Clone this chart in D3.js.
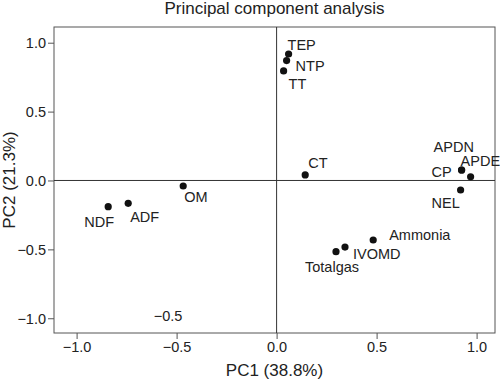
<!DOCTYPE html>
<html>
<head>
<meta charset="utf-8">
<script src="https://cdn.jsdelivr.net/npm/d3@7"></script>
<style>
  body { margin: 0; background: #fff; }
  text { font-family: "Liberation Sans", Arial, sans-serif; fill: #222; }
</style>
</head>
<body>
<svg id="chart" width="500" height="384"></svg>
<script>
// variables (loadings)
var names = ["TEP", "NTP", "TT", "APDN", "CP", "APDE", "NEL", "CT", "OM", "ADF", "NDF", "Ammonia", "IVOMD", "Totalgas"];
var pc1 = [0.06, 0.05, 0.035, 0.925, 0.925, 0.97, 0.92, 0.143, -0.467, -0.742, -0.842, 0.483, 0.342, 0.297];
var pc2 = [0.918, 0.87, 0.795, 0.076, 0.076, 0.027, -0.069, 0.04, -0.04, -0.166, -0.19, -0.432, -0.483, -0.517];
var ticks = [-1.0, -0.5, 0.0, 0.5, 1.0];

// label placement next to each dot (dx to text start, dy to text middle)
var labelDx = [-1, 9, 5, -28, -30, -10, -29, 3, 1, 2, -24, 16, 8, -31];
var labelDy = [-9, 5, 13, -23, 2, -16, 13, -12, 11, 14, 15, -5, 7, 15];

var svg = d3.select("#chart");
var padL = 54, padR = 495, padT = 27, padB = 333;

var x = d3.scaleLinear().domain([-1.113, 1.092]).range([padL, padR]);
var y = d3.scaleLinear().domain([-1.107, 1.114]).range([padB, padT]);

// title
svg.append("text")
    .attr("x", (padL + padR) / 2)
    .attr("y", 14)
    .attr("text-anchor", "middle")
    .style("font-size", "17px")
    .text("Principal component analysis");

// axes
var axisX = d3.axisBottom(x).tickValues(ticks).tickSize(6).tickPadding(3)
    .tickFormat(d3.format(".1f"));
var axisY = d3.axisLeft(y).tickValues(ticks).tickSize(6).tickPadding(2)
    .tickFormat(d3.format(".1f"));

var gx = svg.append("g")
    .attr("class", "axis-X")
    .attr("transform", "translate(0," + padB + ")")
    .call(axisX);
var gy = svg.append("g")
    .attr("class", "axis-Y")
    .attr("transform", "translate(" + padL + ",0)")
    .call(axisY);

[gx, gy].forEach(function(g) {
    g.select(".domain").remove();
    g.selectAll("line").attr("stroke", "#555");
    g.selectAll("text")
        .style("font-size", "14.5px")
        .style("font-family", "'Liberation Sans', Arial, sans-serif")
        .attr("fill", "#222");
});
gy.selectAll("text").attr("dy", "0.36em");

// frame
svg.append("rect")
    .attr("x", padL)
    .attr("y", padT)
    .attr("width", padR - padL)
    .attr("height", padB - padT)
    .attr("fill", "none")
    .attr("stroke", "#555")
    .attr("stroke-width", 1);

// zero lines
svg.append("line")
    .attr("x1", x(0)).attr("x2", x(0))
    .attr("y1", padT).attr("y2", padB)
    .attr("stroke", "#333");
svg.append("line")
    .attr("x1", padL).attr("x2", padR)
    .attr("y1", y(0)).attr("y2", y(0))
    .attr("stroke", "#333");

// axis titles
svg.append("text")
    .attr("x", (padL + padR) / 2)
    .attr("y", 376)
    .attr("text-anchor", "middle")
    .style("font-size", "17px")
    .text("PC1 (38.8%)");
svg.append("text")
    .attr("transform", "translate(15," + (padT + padB) / 2 + ") rotate(-90)")
    .attr("text-anchor", "middle")
    .style("font-size", "17px")
    .text("PC2 (21.3%)");

// stray label inside the plot
svg.append("text")
    .attr("x", 168)
    .attr("y", 321)
    .attr("text-anchor", "middle")
    .style("font-size", "14.5px")
    .text("\u22120.5");

// points
var pts = names.map(function(n, i) { return { name: n, pc1: pc1[i], pc2: pc2[i], dx: labelDx[i], dy: labelDy[i] }; });

svg.selectAll("circle.pt")
    .data(pts)
    .enter()
    .append("circle")
    .attr("class", "pt")
    .attr("cx", function(d) { return x(d.pc1); })
    .attr("cy", function(d) { return y(d.pc2); })
    .attr("r", 3.6)
    .attr("fill", "#111");

svg.selectAll("text.lbl")
    .data(pts)
    .enter()
    .append("text")
    .attr("class", "lbl")
    .attr("x", function(d) { return x(d.pc1) + d.dx; })
    .attr("y", function(d) { return y(d.pc2) + d.dy + 5; })
    .style("font-size", "14.5px")
    .text(function(d) { return d.name; });
</script>
</body>
</html>
